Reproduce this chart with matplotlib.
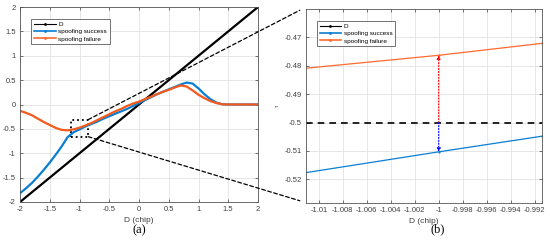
import matplotlib.pyplot as plt
from matplotlib.patches import Rectangle, ConnectionPatch
from matplotlib.lines import Line2D

plt.rcParams['font.family'] = ['Liberation Sans', 'DejaVu Sans']

# Panel (a) - discriminator output vs D
d_chip = [-2.0, -1.9, -1.8, -1.7, -1.6, -1.5, -1.4, -1.3, -1.2, -1.1,
          -1.0, -0.9, -0.8, -0.7, -0.6, -0.5, -0.4, -0.3, -0.2, -0.1,
          0.0, 0.1, 0.2, 0.3, 0.4, 0.5, 0.6, 0.7, 0.8, 0.9,
          1.0, 1.1, 1.2, 1.3, 1.4, 1.5, 1.6, 1.7, 1.8, 1.9, 2.0]
succes = [-1.82, -1.72, -1.61, -1.48, -1.34, -1.19, -1.03, -0.86, -0.67, -0.57,
          -0.51, -0.45, -0.40, -0.35, -0.29, -0.24, -0.19, -0.14, -0.09, -0.03,
          0.03, 0.09, 0.15, 0.21, 0.26, 0.31, 0.36, 0.41, 0.45, 0.43,
          0.33, 0.21, 0.11, 0.04, 0.005, 0.0, 0.0, 0.0, 0.0, 0.0, 0.0]
echec = [-0.13, -0.17, -0.22, -0.29, -0.36, -0.42, -0.48, -0.52, -0.53, -0.51,
         -0.476, -0.43, -0.38, -0.32, -0.26, -0.20, -0.14, -0.09, -0.03, 0.02,
         0.06, 0.11, 0.16, 0.21, 0.26, 0.30, 0.35, 0.39, 0.37, 0.29,
         0.20, 0.13, 0.07, 0.03, 0.005, 0.0, 0.0, 0.0, 0.0, 0.0, 0.0]
ligne_d = [-2.0, 2.0]

# Panel (b) - zoom autour de D = -1
d_zoom = [-1.0112, -1.0, -0.9914]
succes_zoom = [-0.5177, -0.5103, -0.5048]
echec_zoom = [-0.4809, -0.4763, -0.4721]
ref_zoom = -0.5

bleu = '#0A7ED3'
orange = '#F25A1E'
gris = '#404040'


def style_matlab(ax):
    ax.grid(True, color='#E3E3E3', linewidth=0.6)
    ax.set_axisbelow(True)
    ax.tick_params(direction='in', length=2.5, width=0.5, labelsize=5.5,
                   colors=gris, top=True, right=True, pad=3)
    for s in ax.spines.values():
        s.set_color('#555555')
        s.set_linewidth(0.6)


fig = plt.figure(figsize=(5.5, 2.49), dpi=100)
ax1 = fig.add_axes([0.0364, 0.1888, 0.4327, 0.783])
ax2 = fig.add_axes([0.5558, 0.186, 0.4291, 0.7767])

# (a)
ax1.plot(ligne_d, ligne_d, color='black', linewidth=1.6, label='D')
ax1.plot(d_chip, succes, color=bleu, linewidth=1.6, label='spoofing success')
ax1.plot(d_chip, echec, color=orange, linewidth=1.6, label='spoofing failure')
ax1.set_xlim(-2, 2)
ax1.set_ylim(-2, 2)
ax1.set_xticks([-2, -1.5, -1, -0.5, 0, 0.5, 1, 1.5, 2])
ax1.set_xticklabels(['-2', '-1.5', '-1', '-0.5', '0', '0.5', '1', '1.5', '2'])
ax1.set_yticks([-2, -1.5, -1, -0.5, 0, 0.5, 1, 1.5, 2])
ax1.set_yticklabels(['-2', '-1.5', '-1', '-0.5', '0', '0.5', '1', '1.5', '2'])
ax1.set_xlabel('D (chip)', fontsize=6, color=gris, labelpad=3)
style_matlab(ax1)

# rectangle de zoom
ax1.add_patch(Rectangle((-1.144, -0.66), 0.291, 0.35, fill=False,
                        edgecolor='black', linestyle=':', linewidth=1.3))

# (b)
ax2.plot(d_zoom, succes_zoom, color=bleu, linewidth=0.9, marker='.',
         markersize=1.2, label='spoofing success')
ax2.plot(d_zoom, echec_zoom, color='#FF6A30', linewidth=0.9, marker='.',
         markersize=1.2, label='spoofing failure')
ax2.axhline(ref_zoom, color='black', linewidth=1.2, linestyle=(0, (4, 3)))
ax2.annotate('', xy=(d_zoom[1], echec_zoom[1]), xytext=(d_zoom[1], ref_zoom),
             arrowprops=dict(arrowstyle='-|>', color='red', linestyle=':',
                             linewidth=0.8, mutation_scale=5,
                             shrinkA=0, shrinkB=0))
ax2.annotate('', xy=(d_zoom[1], succes_zoom[1]), xytext=(d_zoom[1], ref_zoom),
             arrowprops=dict(arrowstyle='-|>', color='blue', linestyle=':',
                             linewidth=0.8, mutation_scale=5,
                             shrinkA=0, shrinkB=0))
ax2.set_xlim(-1.0111, -0.9914)
ax2.set_ylim(-0.5282, -0.4601)
xt = [-1.01, -1.008, -1.006, -1.004, -1.002, -1.0, -0.998, -0.996, -0.994, -0.992]
ax2.set_xticks(xt)
ax2.set_xticklabels(['-1.01', '-1.008', '-1.006', '-1.004', '-1.002', '-1',
                     '-0.998', '-0.996', '-0.994', '-0.992'])
yt = [-0.52, -0.51, -0.5, -0.49, -0.48, -0.47]
ax2.set_yticks(yt)
ax2.set_yticklabels(['-0.52', '-0.51', '-0.5', '-0.49', '-0.48', '-0.47'])
ax2.set_xlabel('D (chip)', fontsize=6, color=gris, labelpad=3)
ax2.set_ylabel('τ', fontsize=4, color=gris, labelpad=3)
style_matlab(ax2)

# legendes
poignees = [Line2D([], [], color='black', linewidth=0.8, marker='.', markersize=2),
            Line2D([], [], color=bleu, linewidth=1.2, marker='.', markersize=2),
            Line2D([], [], color='#FF6A30', linewidth=1.2, marker='.', markersize=2)]
noms = ['D', 'spoofing success', 'spoofing failure']
for ax in (ax1, ax2):
    leg = ax.legend(poignees, noms, loc='upper left', bbox_to_anchor=(0.048, 0.94),
                    fontsize=4.6, frameon=True, fancybox=False, handlelength=3.4,
                    handletextpad=0.4, borderpad=0.4, labelspacing=0.3,
                    borderaxespad=0)
    leg.get_frame().set_edgecolor('#333333')
    leg.get_frame().set_linewidth(0.6)

# lignes de zoom entre les panneaux
for ya, yb in [(-0.31, 0.995), (-0.66, 0.01)]:
    con = ConnectionPatch(xyA=(-0.853, ya), coordsA='data', axesA=ax1,
                          xyB=(-0.025, yb), coordsB='axes fraction', axesB=ax2,
                          color='black', linestyle=(0, (3, 2)), linewidth=0.9)
    fig.add_artist(con)

fig.text(0.2527, 0.076, '(a)', family='Liberation Serif', fontsize=9,
         ha='center', va='center')
fig.text(0.795, 0.079, '(b)', family='Liberation Serif', fontsize=9,
         ha='center', va='center')

plt.savefig('out.png', dpi=100)
